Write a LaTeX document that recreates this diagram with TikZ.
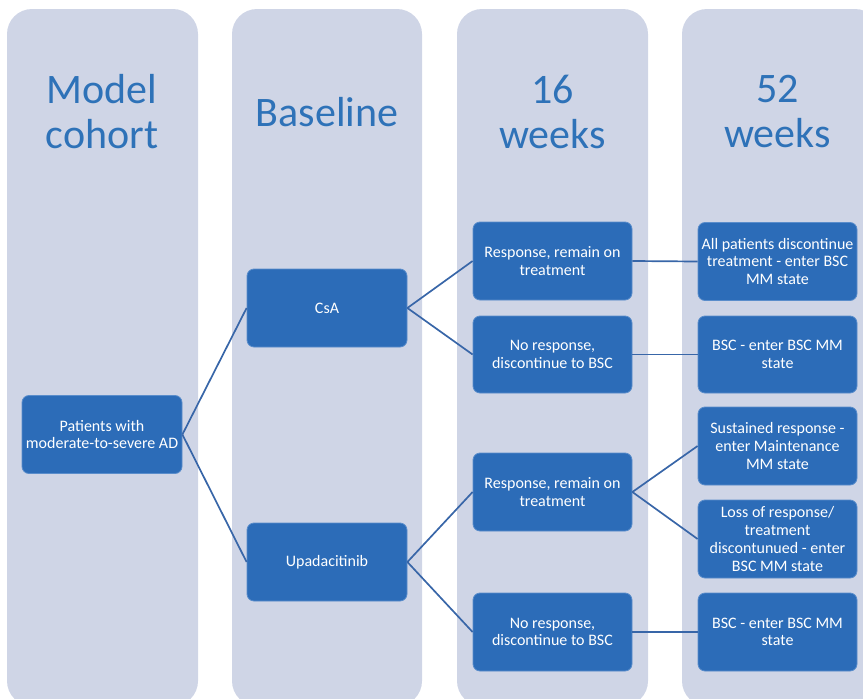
\documentclass[tikz,border=0pt]{standalone}
\usepackage{fontspec}
\setmainfont{Carlito}
\definecolor{colbg}{HTML}{CFD5E6}
\definecolor{boxblue}{HTML}{2C6CB8}
\definecolor{boxedge}{HTML}{5A8DCB}
\definecolor{titleblue}{HTML}{2E72B8}
\definecolor{linkblue}{HTML}{3866A8}
\newcommand\myboxfont{\fontsize{16}{17.7}\selectfont}
\newcommand\mytitlefont{\fontsize{42}{45}\selectfont}
\tikzset{
  colbox/.style={fill=colbg, rounded corners=25pt},
  stagebox/.style={draw=boxedge, line width=0.8pt, fill=boxblue, rounded corners=7pt,
    text=white, align=center, font=\myboxfont, minimum width=160pt, minimum height=78pt,
    inner sep=1pt},
  coltitle/.style={text=titleblue, font=\mytitlefont, align=center},
  link/.style={draw=linkblue, line width=1.7pt}
}
\begin{document}
\begin{tikzpicture}[x=1pt,y=-1pt]
\useasboundingbox (0,0) rectangle (863,699);
\begin{scope}
\clip (0,0) rectangle (863,699);
\fill[colbox] (7,9) rectangle (198,706);
\fill[colbox] (232,9) rectangle (422,706);
\fill[colbox] (457,9) rectangle (648,706);
\fill[colbox] (682,9) rectangle (880,706);
\end{scope}
\node[coltitle] (t1) at (102,111.5) {Model\\cohort};
\node[coltitle] (t2) at (327,112) {Baseline};
\node[coltitle] (t3) at (552.5,111.5) {16\\weeks};
\node[coltitle] (t4) at (777.5,111.5) {52\\weeks};

\node[stagebox] (pat) at (102,434.5) {Patients with\\moderate-to-severe AD};
\node[stagebox] (csa) at (327,308) {CsA};
\node[stagebox] (upa) at (327,562) {Upadacitinib};
\node[stagebox, minimum width=159pt] (r1) at (552.5,261) {Response, remain on\\treatment};
\node[stagebox, minimum width=159pt, minimum height=77pt] (n1) at (552.5,354.5) {No response,\\discontinue to BSC};
\node[stagebox, minimum width=159pt] (r2) at (552.5,492) {Response, remain on\\treatment};
\node[stagebox, minimum width=159pt] (n2) at (552.5,632) {No response,\\discontinue to BSC};
\node[stagebox, minimum width=159pt] (a1) at (777.5,261.5) {All patients discontinue\\treatment - enter BSC\\MM state};
\node[stagebox, minimum width=159pt, minimum height=77pt] (b1) at (777.5,354.5) {BSC - enter BSC MM\\state};
\node[stagebox, minimum width=159pt] (s1) at (777.5,446) {Sustained response -\\enter Maintenance\\MM state};
\node[stagebox, minimum width=159pt] (l1) at (777.5,539) {Loss of response/\\treatment\\discontunued - enter\\BSC MM state};
\node[stagebox, minimum width=159pt] (b2) at (777.5,632) {BSC - enter BSC MM\\state};

\draw[link] (pat.east) -- (csa.west);
\draw[link] (pat.east) -- (upa.west);
\draw[link] (csa.east) -- (r1.west);
\draw[link] (csa.east) -- (n1.west);
\draw[link] (upa.east) -- (r2.west);
\draw[link] (upa.east) -- (n2.west);
\draw[link] (r1.east) -- (a1.west);
\draw[link] (n1.east) -- (b1.west);
\draw[link] (r2.east) -- (s1.west);
\draw[link] (r2.east) -- (l1.west);
\draw[link] (n2.east) -- (b2.west);
\end{tikzpicture}
\end{document}
